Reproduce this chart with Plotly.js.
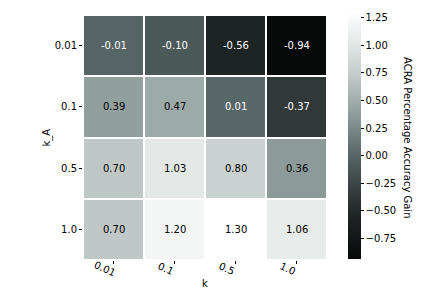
<!DOCTYPE html>
<html><head><meta charset="utf-8">
<script src="https://cdn.plot.ly/plotly-3.0.1.min.js"></script>
<style>html,body{margin:0;padding:0;background:#fff}#c{width:432px;height:288px}</style>
</head><body><div id="c"></div>
<script>
const kLabels = ["0.01", "0.1", "0.5", "1.0"];
const kALabels = ["0.01", "0.1", "0.5", "1.0"];
const gains = [
  [-0.01, -0.10, -0.56, -0.94],
  [0.39, 0.47, 0.01, -0.37],
  [0.70, 1.03, 0.80, 0.36],
  [0.70, 1.20, 1.30, 1.06]
];
const cbTicks = [-0.75, -0.50, -0.25, 0.00, 0.25, 0.50, 0.75, 1.00, 1.25];

const zmin = -0.94, zmax = 1.30;
const colorscale = [
  [0.0, "rgb(8,10,10)"],
  [0.17, "rgb(30,35,35)"],
  [0.25, "rgb(48,55,55)"],
  [0.415, "rgb(85,100,100)"],
  [0.58, "rgb(140,155,153)"],
  [0.73, "rgb(190,200,198)"],
  [0.88, "rgb(228,233,232)"],
  [0.96, "rgb(245,247,247)"],
  [1.0, "rgb(255,255,255)"]
];

const font = "DejaVu Sans, sans-serif";
const annotations = [];
for (let i = 0; i < kALabels.length; i++) {
  for (let j = 0; j < kLabels.length; j++) {
    const v = gains[i][j];
    const pos = (v - zmin) / (zmax - zmin);
    annotations.push({
      x: j, y: i, xref: "x", yref: "y",
      text: v.toFixed(2), showarrow: false,
      xanchor: "center", yanchor: "middle",
      font: {family: font, size: 10, color: pos < 0.5 ? "#ffffff" : "#000000"}
    });
  }
}
// rotated x tick labels
for (let j = 0; j < kLabels.length; j++) {
  annotations.push({
    x: j, xref: "x", yref: "paper", y: 0,
    text: kLabels[j], showarrow: false, textangle: 25,
    xanchor: "center", yanchor: "middle", xshift: -9, yshift: -8,
    font: {family: font, size: 10, color: "#000"}
  });
}
annotations.push({
  xref: "paper", yref: "paper", x: 0.5, y: 0, yshift: -23,
  xanchor: "center", yanchor: "middle",
  text: "k", showarrow: false,
  font: {family: font, size: 10, color: "#000"}
});
annotations.push({
  xref: "paper", yref: "paper", x: 0, y: 0.5, xshift: -37,
  xanchor: "center", yanchor: "middle",
  text: "k_A", textangle: -90, showarrow: false,
  font: {family: font, size: 10, color: "#000"}
});
annotations.push({
  xref: "paper", yref: "paper", x: 1, xshift: 73, y: 0.5, yshift: 0,
  xanchor: "left", yanchor: "middle",
  text: "ACRA Percentage Accuracy Gain", textangle: 90, showarrow: false,
  font: {family: font, size: 10, color: "#000"}
});

const trace = {
  type: "heatmap",
  x: kLabels, y: kALabels, z: gains,
  zmin: zmin, zmax: zmax,
  colorscale: colorscale,
  xgap: 2, ygap: 2,
  hoverinfo: "skip",
  colorbar: {
    thickness: 13, thicknessmode: "pixels",
    len: 247, lenmode: "pixels",
    xref: "container", yref: "container",
    x: 348 / 432, xanchor: "left", xpad: 0,
    y: (288 - 14.5) / 288, yanchor: "top", ypad: 0,
    outlinewidth: 0,
    tickmode: "array", tickvals: cbTicks,
    ticktext: cbTicks.map(t => (t < 0 ? "\u2212" + Math.abs(t).toFixed(2) : t.toFixed(2))),
    ticks: "outside", ticklen: 3, tickwidth: 1, tickcolor: "#000",
    tickfont: {family: font, size: 10, color: "#000"}
  }
};

const layout = {
  width: 432, height: 288,
  margin: {l: 83, r: 105, t: 15, b: 28, pad: 0},
  paper_bgcolor: "#fff", plot_bgcolor: "#fff",
  font: {family: font, size: 10, color: "#000"},
  xaxis: {
    type: "category", categoryarray: kLabels,
    ticks: "outside", ticklen: 3, tickcolor: "#000",
    showticklabels: false, showgrid: false, zeroline: false, showline: false
  },
  yaxis: {
    type: "category", categoryarray: kALabels, autorange: "reversed",
    ticks: "outside", ticklen: 3, tickcolor: "#000",
    showgrid: false, zeroline: false, showline: false,
    tickfont: {family: font, size: 10}
  },
  annotations: annotations
};

Plotly.newPlot("c", [trace], layout, {displayModeBar: false, staticPlot: true});
</script></body></html>
